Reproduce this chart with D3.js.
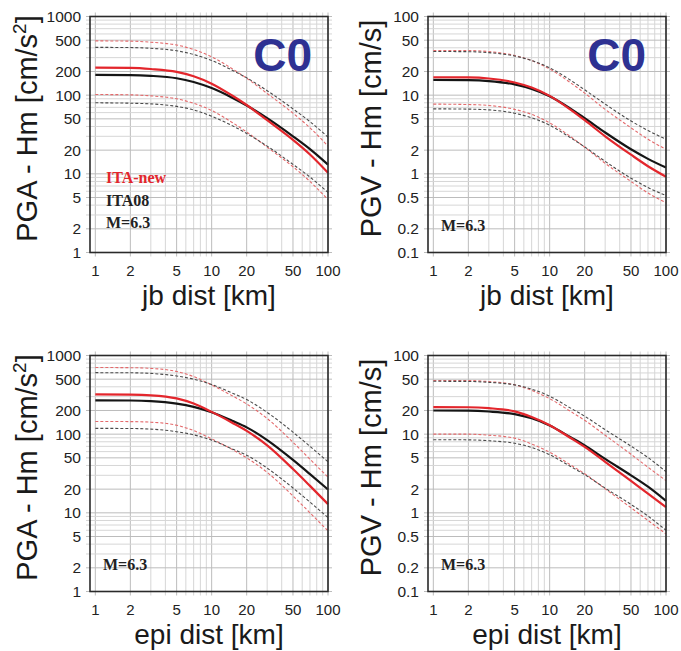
<!DOCTYPE html>
<html>
<head>
<meta charset="utf-8">
<script src="https://cdn.jsdelivr.net/npm/d3@7"></script>
<style>
  body { margin: 0; background: #fff; }
  svg text { font-family: "Liberation Sans", Arial, Helvetica, sans-serif; }
  svg text.note { font-family: "Liberation Serif", "Times New Roman", serif; font-weight: bold; }
</style>
</head>
<body>
<svg id="chart" width="681" height="651"></svg>
<script>
// Distances (km) at which the attenuation curves are sampled
const distances = [1, 2, 3, 5, 7, 10, 15, 20, 30, 50, 70, 100];

// Axis tick labels
const xTicks = [1, 2, 5, 10, 20, 50, 100];
const pgaTicks = [1, 2, 5, 10, 20, 50, 100, 200, 500, 1000];
const pgvTicks = [0.1, 0.2, 0.5, 1, 2, 5, 10, 20, 50, 100];

// PGA vs Joyner-Boore distance (cm/s^2)
const pgaJbNew    = [224, 222, 215, 198, 174, 140, 99, 75, 48, 27, 17.6, 10.3];
const pgaJbNewHi  = [490, 486, 471, 434, 381, 307, 217, 164, 105, 59, 38.5, 22.5];
const pgaJbNewLo  = [102, 101, 98, 90, 79, 64, 45, 34, 21.8, 12.3, 8.0, 4.7];
const pgaJb08     = [181, 180, 176, 164, 147, 123, 93, 74, 51, 30, 20.6, 13.1];
const pgaJb08Hi   = [405, 403, 394, 367, 329, 276, 208, 166, 114, 67, 46, 29.3];
const pgaJb08Lo   = [80, 79, 77.5, 72, 65, 54, 41, 32.6, 22.5, 13.2, 9.1, 5.8];

// PGV vs Joyner-Boore distance (cm/s)
const pgvJbNew    = [16.9, 16.8, 16.3, 14.5, 12.5, 9.8, 6.6, 4.8, 3.0, 1.75, 1.25, 0.92];
const pgvJbNewHi  = [37, 36.9, 35.8, 32, 27.5, 21.5, 14.5, 10.6, 6.6, 3.85, 2.75, 2.05];
const pgvJbNewLo  = [7.7, 7.6, 7.4, 6.6, 5.7, 4.45, 3.0, 2.18, 1.36, 0.8, 0.57, 0.43];
const pgvJb08     = [15.6, 15.5, 15.1, 13.7, 12.0, 9.7, 6.8, 5.1, 3.35, 2.05, 1.55, 1.2];
const pgvJb08Hi   = [35.9, 35.7, 34.7, 31.5, 27.6, 22.3, 15.6, 11.7, 7.7, 4.7, 3.55, 2.76];
const pgvJb08Lo   = [6.7, 6.65, 6.5, 5.9, 5.15, 4.15, 2.9, 2.2, 1.44, 0.88, 0.67, 0.53];

// PGA vs epicentral distance (cm/s^2)
const pgaEpiNew   = [320, 318, 312, 285, 245, 192, 140, 110, 72, 36, 22, 12.9];
const pgaEpiNewHi = [704, 700, 686, 627, 539, 422, 308, 242, 158, 79, 48, 28.4];
const pgaEpiNewLo = [145, 144.5, 142, 130, 111, 87, 64, 50, 32.7, 16.4, 10, 5.9];
const pgaEpi08    = [269, 268, 263, 244, 222, 190, 148, 122, 84, 47, 31, 19.8];
const pgaEpi08Hi  = [605, 603, 592, 549, 500, 428, 333, 275, 189, 106, 70, 44.5];
const pgaEpi08Lo  = [118.5, 118, 116, 107.5, 98, 84, 65, 54, 37, 20.7, 13.7, 8.7];

// PGV vs epicentral distance (cm/s)
const pgvEpiNew   = [22.1, 22.0, 21.4, 19.5, 16.5, 13.0, 9.0, 6.9, 4.45, 2.55, 1.75, 1.18];
const pgvEpiNewHi = [48.2, 48, 46.6, 42.5, 36, 28.3, 19.6, 15.0, 9.7, 5.55, 3.8, 2.57];
const pgvEpiNewLo = [10.0, 10.0, 9.7, 8.9, 7.5, 5.9, 4.1, 3.14, 2.02, 1.16, 0.8, 0.54];
const pgvEpi08    = [20.0, 19.9, 19.4, 18.0, 15.9, 12.9, 9.2, 7.2, 4.85, 3.0, 2.15, 1.42];
const pgvEpi08Hi  = [47, 46.8, 45.6, 42.3, 37.4, 30.3, 21.6, 16.9, 11.4, 7.05, 5.05, 3.34];
const pgvEpi08Lo  = [8.5, 8.47, 8.25, 7.66, 6.77, 5.49, 3.91, 3.06, 2.06, 1.28, 0.91, 0.6];

// Panel layout
const W = 238, H = 236;
const panels = [
  { x: 90,  y: 16.5,  kind: "PGA", dist: "jb",  ticks: pgaTicks, dom: [1, 1000], tag: "C0", legend: true,
    sets: [pgaJbNew, pgaJbNewHi, pgaJbNewLo, pgaJb08, pgaJb08Hi, pgaJb08Lo] },
  { x: 428, y: 16.5,  kind: "PGV", dist: "jb",  ticks: pgvTicks, dom: [0.1, 100], tag: "C0", legend: false,
    sets: [pgvJbNew, pgvJbNewHi, pgvJbNewLo, pgvJb08, pgvJb08Hi, pgvJb08Lo] },
  { x: 90,  y: 355.5, kind: "PGA", dist: "epi", ticks: pgaTicks, dom: [1, 1000], tag: null, legend: false,
    sets: [pgaEpiNew, pgaEpiNewHi, pgaEpiNewLo, pgaEpi08, pgaEpi08Hi, pgaEpi08Lo] },
  { x: 428, y: 355.5, kind: "PGV", dist: "epi", ticks: pgvTicks, dom: [0.1, 100], tag: null, legend: false,
    sets: [pgvEpiNew, pgvEpiNewHi, pgvEpiNewLo, pgvEpi08, pgvEpi08Hi, pgvEpi08Lo] }
];

const RED = "#e3262c", BLACK = "#151515";
const styles = [
  { color: "#e46a6c", width: 1.1, dash: "3,2" },  // ITA-new +sigma
  { color: "#e46a6c", width: 1.1, dash: "3,2" },  // ITA-new -sigma
  { color: "#4a4a4a", width: 1.1, dash: "3,2" },  // ITA08 +sigma
  { color: "#4a4a4a", width: 1.1, dash: "3,2" },  // ITA08 -sigma
  { color: BLACK, width: 2.2, dash: null },       // ITA08 median
  { color: RED, width: 2.2, dash: null }          // ITA-new median
];

const svg = d3.select("#chart");

// values k*10^n inside [lo, hi]
function logGrid(lo, hi) {
  const out = [];
  for (let e = Math.floor(Math.log10(lo)); e <= Math.ceil(Math.log10(hi)); e++) {
    for (let k = 1; k <= 9; k++) {
      const v = +(k * Math.pow(10, e)).toPrecision(6);
      if (v >= lo * 0.9999 && v <= hi * 1.0001) out.push(v);
    }
  }
  return out;
}

panels.forEach(p => {
  const g = svg.append("g").attr("transform", `translate(${p.x},${p.y})`);
  const x = d3.scaleLog().domain([0.9, 100]).range([0, W]);
  const y = d3.scaleLog().domain(p.dom).range([H, 0]);

  // grid (extends a few pixels past the frame like tick marks)
  const ext = 4;
  const xg = logGrid(1, 100);
  const yg = logGrid(p.dom[0], p.dom[1]);
  const isMajor = v => [1, 2, 5].includes(Math.round(v / Math.pow(10, Math.floor(Math.log10(v) + 1e-9))));
  g.append("g").selectAll("line").data(xg).join("line")
    .attr("x1", d => x(d)).attr("x2", d => x(d))
    .attr("y1", -ext).attr("y2", H + ext)
    .attr("stroke", d => isMajor(d) ? "#bcbcbc" : "#d6d6d6").attr("stroke-width", 1);
  g.append("g").selectAll("line").data(yg).join("line")
    .attr("y1", d => y(d)).attr("y2", d => y(d))
    .attr("x1", -ext).attr("x2", W + ext)
    .attr("stroke", d => isMajor(d) ? "#bcbcbc" : "#d6d6d6").attr("stroke-width", 1);

  // curves
  const line = d3.line()
    .x((d, i) => x(distances[i]))
    .y(d => y(d))
    .curve(d3.curveMonotoneX);
  const order = [p.sets[1], p.sets[2], p.sets[4], p.sets[5], p.sets[3], p.sets[0]];
  order.forEach((s, i) => {
    const st = styles[i];
    g.append("path").datum(s).attr("d", line)
      .attr("fill", "none").attr("stroke", st.color).attr("stroke-width", st.width)
      .attr("stroke-dasharray", st.dash).attr("stroke-linejoin", "round");
  });

  // frame
  g.append("rect").attr("width", W).attr("height", H)
    .attr("fill", "none").attr("stroke", "#2a2a2a").attr("stroke-width", 1.6);

  // tick labels
  g.append("g").selectAll("text").data(xTicks).join("text")
    .attr("x", d => x(d)).attr("y", H + 23.5)
    .attr("text-anchor", "middle").attr("font-size", 15).attr("fill", "#222")
    .text(d => d);
  g.append("g").selectAll("text").data(p.ticks).join("text")
    .attr("x", -9).attr("y", d => y(d)).attr("dy", "0.36em")
    .attr("text-anchor", "end").attr("font-size", 15.5).attr("fill", "#222")
    .text(d => d);

  // axis titles
  g.append("text").attr("x", W / 2).attr("y", H + 52.5)
    .attr("text-anchor", "middle").attr("font-size", 28).attr("fill", "#1a1a1a")
    .text(`${p.dist} dist [km]`);
  const yl = g.append("text")
    .attr("transform", `translate(${p.kind === "PGA" ? -53 : -47},${H / 2 - 6}) rotate(-90)`)
    .attr("text-anchor", "middle").attr("font-size", 29).attr("fill", "#1a1a1a");
  if (p.kind === "PGA") {
    yl.append("tspan").text("PGA - Hm [cm/s");
    yl.append("tspan").attr("font-size", 19).attr("dy", -11).text("2");
    yl.append("tspan").attr("dy", 11).text("]");
  } else {
    yl.text("PGV - Hm [cm/s]");
  }

  // site-class tag
  if (p.tag) {
    g.append("text").attr("x", p.x < 200 ? W - 16 : W - 20).attr("y", 54)
      .attr("text-anchor", "end").attr("font-size", 46).attr("font-weight", "bold")
      .attr("fill", "#2e3192").text(p.tag);
  }

  // legend / magnitude note
  if (p.legend) {
    g.append("text").attr("class", "note").attr("x", 16).attr("y", 166)
      .attr("font-size", 16).attr("fill", RED).text("ITA-new");
    g.append("text").attr("class", "note").attr("x", 16).attr("y", 189.5)
      .attr("font-size", 16).attr("fill", "#222").text("ITA08");
  }
  g.append("text").attr("class", "note").attr("x", p.legend ? 16 : 13).attr("y", p.legend ? 211.5 : 214)
    .attr("font-size", 16).attr("fill", "#222").text("M=6.3");
});
</script>
</body>
</html>
